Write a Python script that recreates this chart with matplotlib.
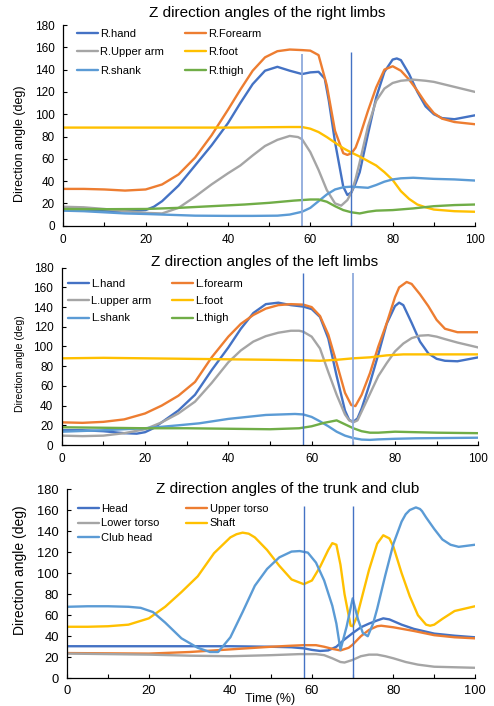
import numpy as np
import matplotlib
matplotlib.use('Agg')
import matplotlib.pyplot as plt

plt.rcParams['font.family'] = ['Liberation Sans', 'DejaVu Sans']
plt.rcParams['lines.solid_joinstyle'] = 'round'
plt.rcParams['lines.solid_capstyle'] = 'round'

# ---- right limbs ----
r_hand_x = [0, 5, 10, 15, 20, 22, 24, 28, 32, 36, 40, 43, 46, 49, 52, 55, 58, 60, 62, 63.5, 64.5, 66, 68, 69, 70, 71, 72, 74, 76, 78, 80, 81, 82, 84, 86, 88, 90, 92, 95, 100]
r_hand_y = [14, 14, 13.5, 13, 14, 17, 22, 36, 54, 72, 92, 110, 127, 139, 142.5, 139, 136, 137.5, 138, 132, 112, 75, 35, 27.5, 30, 38, 48, 82, 115, 138, 149, 150, 148.5, 136, 120, 107, 100, 96.5, 95.5, 99]
r_forearm_x = [0, 5, 10, 15, 20, 24, 28, 32, 36, 40, 43, 46, 49, 52, 55, 58, 60, 62, 64, 66, 68, 69, 70, 71, 72, 74, 76, 78, 80, 82, 84, 86, 88, 90, 92, 95, 100]
r_forearm_y = [33, 33, 32.5, 31.5, 32.5, 37, 46, 61, 81, 104, 122, 139, 151, 156.5, 158, 157.5, 157, 153, 126, 85, 65, 63.5, 65, 70, 80, 103, 124, 140, 143, 139, 131, 121, 110, 101, 96, 93, 91]
r_upper_x = [0, 5, 10, 15, 20, 24, 28, 32, 36, 40, 43, 46, 49, 52, 55, 57, 58, 60, 62, 64, 66, 67.5, 69, 70, 71, 72, 74, 76, 78, 80, 82, 85, 88, 90, 95, 100]
r_upper_y = [17, 16.5, 15, 13, 11.5, 11, 16, 26, 37, 47, 54, 63, 71.5, 77, 80.5, 79.5, 77.5, 66, 50, 32, 20, 18, 23, 30, 42, 57, 89, 112, 123, 128, 130, 131, 130, 129, 124.5, 120]
r_foot_x = [0, 20, 40, 55, 58, 60, 62, 64, 66, 68, 70, 72, 74, 76, 78, 80, 82, 84, 86, 88, 90, 95, 100]
r_foot_y = [88, 88, 88, 88.5, 88.5, 87, 84, 79.5, 74.5, 69.5, 65.5, 62, 58, 54, 48, 41, 31, 24, 19, 16.5, 14.5, 13, 12.5]
r_shank_x = [0, 5, 10, 15, 20, 24, 28, 32, 40, 46, 52, 55, 58, 60, 62, 64, 66, 68, 70, 72, 74, 76, 78, 80, 82, 85, 90, 95, 100]
r_shank_y = [13.5, 13, 12, 11, 10.5, 10, 9.5, 9, 8.8, 8.8, 9, 10, 12.5, 16, 22, 28, 32.5, 34.5, 35, 34.5, 34, 36.5, 39.5, 41.5, 42.5, 43, 42, 41.5, 40.5]
r_thigh_x = [0, 10, 20, 28, 36, 44, 50, 56, 60, 62, 64, 66, 68, 70, 72, 74, 76, 80, 85, 90, 95, 100]
r_thigh_y = [15, 14.8, 15, 16, 17.5, 19, 20.5, 22.5, 23.5, 23.5, 21.5, 17.5, 14, 12, 11, 12.5, 13.5, 14, 15.5, 17.5, 18.5, 19]

# ---- left limbs ----
l_hand_x = [0, 5, 10, 15, 18, 20, 22, 24, 28, 32, 36, 40, 43, 46, 49, 52, 55, 58, 60, 62, 64, 66, 68, 69, 70, 71, 72, 74, 76, 78, 80, 81, 82, 84, 86, 88, 90, 92, 95, 100]
l_hand_y = [15, 15, 14, 12, 11.5, 13, 17, 23, 35, 51, 76, 99, 118, 134, 143, 144.5, 142, 140.5, 138, 130, 108, 70, 35, 25.5, 23.5, 27, 37, 63, 92, 123, 141, 144.5, 142, 124, 105, 93, 87.5, 85.5, 85, 89]
l_forearm_x = [0, 5, 10, 15, 20, 24, 28, 32, 36, 40, 43, 46, 49, 52, 55, 58, 60, 62, 64, 66, 68, 69.5, 70.5, 72, 74, 76, 78, 80, 81, 82.8, 84, 86, 88, 90, 92, 95, 100]
l_forearm_y = [23, 22.5, 23.5, 26, 32, 40, 50, 64, 89, 110, 123, 132, 138.5, 142, 143, 142.5, 140, 131, 112, 83, 53, 40.5, 39.5, 51, 73, 100, 123.5, 150, 160, 165.5, 163.5, 153, 141, 127, 118, 114.5, 114.5]
l_upper_x = [0, 5, 10, 15, 20, 24, 28, 32, 36, 40, 43, 46, 49, 52, 55, 57, 58, 60, 62, 64, 66, 68, 69, 70, 71, 72, 74, 76, 78, 80, 82, 84, 86, 88, 90, 92, 95, 100]
l_upper_y = [9.5, 9, 9.5, 12, 16, 23, 32, 44, 63, 84, 96, 105, 110.5, 114, 116, 116, 115, 110, 98, 74, 51, 31, 25, 23, 25, 34, 52, 70, 83, 95, 103, 108.5, 111, 111.5, 110, 107.5, 104, 99]
l_foot_x = [0, 10, 20, 30, 40, 50, 58, 62, 66, 70, 74, 78, 82, 90, 100]
l_foot_y = [88, 88.5, 88, 87.5, 87, 86.5, 86, 85.5, 86.5, 88, 89, 91, 92, 92, 92]
l_shank_x = [0, 10, 20, 28, 33, 40, 49, 56, 58, 60, 62, 64, 66, 68, 70, 72, 74, 76, 80, 85, 90, 100]
l_shank_y = [13.5, 15, 17, 20, 22, 26.5, 30.5, 31.5, 31, 28.5, 24, 19, 13.5, 9.5, 7, 5.5, 5.2, 5.7, 6.3, 6.8, 7, 7.4]
l_thigh_x = [0, 10, 20, 30, 40, 50, 57, 60, 63, 66, 68, 70, 72, 74, 76, 80, 85, 90, 100]
l_thigh_y = [18, 17.5, 17, 17, 16.5, 16, 17, 19, 22.5, 25, 21, 17, 14, 12.5, 12.5, 13.5, 13, 12.5, 12]

# ---- trunk and club ----
head_x = [0, 20, 40, 50, 55, 58, 60, 62, 64, 66, 68, 70, 72, 74, 76, 77.5, 79, 82, 85, 90, 95, 100]
head_y = [30.5, 30.5, 30.5, 30, 29.5, 28.5, 27, 26, 26.5, 30, 37, 43, 48.5, 52, 55, 57, 56, 51, 47, 42.5, 40.5, 39]
upper_torso_x = [0, 20, 30, 40, 50, 55, 58, 61, 63, 65, 67, 69, 70, 72, 74, 76, 77, 80, 85, 90, 95, 100]
upper_torso_y = [24, 23.5, 25, 27.5, 30, 31, 31.5, 31.5, 30, 28, 26.5, 29, 32, 40, 46, 49.5, 50, 48.5, 45, 41, 39, 38]
lower_torso_x = [0, 10, 20, 30, 40, 50, 57, 61, 63, 65, 67, 68, 70, 72, 74, 76, 78, 80, 83, 86, 90, 95, 100]
lower_torso_y = [23.5, 23, 22.5, 21.5, 21, 22, 23, 23, 22, 19, 15.5, 15, 17.5, 21, 22.5, 22.5, 21, 19, 15.5, 13, 11, 10.5, 10]
shaft_x = [0, 5, 10, 15, 20, 24, 28, 32, 36, 40, 41.5, 43, 44.5, 46, 49, 52, 55, 58, 60, 62, 64, 65, 66, 67, 68, 69.5, 70, 71, 72, 74, 76, 77.5, 79, 80, 82, 84, 86, 88, 89, 90, 92, 95, 100]
shaft_y = [49, 49, 49.5, 51, 57, 68, 82, 97, 119, 134, 137, 138.5, 137.5, 134, 122, 107, 94, 89.5, 93, 106, 122, 128.5, 127, 108, 80, 50, 49.5, 58, 73, 103, 128, 136, 133, 125, 100, 78, 60, 51, 50, 51, 56.5, 64, 68.5]
club_x = [0, 5, 10, 15, 18, 21, 24, 28, 32, 35, 37, 40, 43, 46, 49, 52, 55, 57, 59, 61, 63, 65, 66, 67, 68.5, 70, 71.3, 72.5, 73.7, 75, 76, 78, 80, 82, 83, 84, 85.5, 86.5, 87, 88, 90, 92, 94, 96, 98, 100]
club_y = [68, 68.5, 68.5, 68, 67, 63, 53, 38, 29, 25, 25, 39, 63, 88, 104, 115, 120.5, 121, 119.5, 110, 93, 69, 52, 27, 49, 76, 56, 43, 40, 52, 66, 98, 128, 149, 156, 160, 162.5, 161, 159, 153, 142, 132, 127, 125, 126, 127]

BLUE = '#4472C4'
ORANGE = '#ED7D31'
GRAY = '#A5A5A5'
YELLOW = '#FFC000'
LBLUE = '#5B9BD5'
GREEN = '#70AD47'

W, H = 494, 706
fig = plt.figure(figsize=(W / 100, H / 100), dpi=100)


def px_axes(left, right, top, bottom):
    return fig.add_axes([left / W, 1 - bottom / H, (right - left) / W, (bottom - top) / H])


def style(ax, fs):
    ax.set_xlim(0, 100)
    ax.set_ylim(0, 180)
    ax.set_xticks(np.arange(0, 101, 20))
    ax.set_xticks(np.arange(0, 101, 10), minor=True)
    ax.set_yticks(np.arange(0, 181, 20))
    for s in ['top', 'right']:
        ax.spines[s].set_visible(False)
    for s in ['left', 'bottom']:
        ax.spines[s].set_color('black')
        ax.spines[s].set_linewidth(0.9)
    ax.tick_params(which='both', direction='in', length=3, width=0.8, color='black')
    ax.tick_params(axis='x', which='minor', labelbottom=False)
    ax.tick_params(axis='x', labelsize=fs, pad=6, colors='black')
    ax.tick_params(axis='y', labelsize=fs, pad=6, colors='black')


lw = 1.7

# right limbs panel
ax1 = px_axes(63.3, 475, 25, 225.7)
style(ax1, 8.5)
h_hand, = ax1.plot(r_hand_x, r_hand_y, color=BLUE, lw=lw, label='R.hand')
h_fore, = ax1.plot(r_forearm_x, r_forearm_y, color=ORANGE, lw=lw, label='R.Forearm')
h_up, = ax1.plot(r_upper_x, r_upper_y, color=GRAY, lw=lw, label='R.Upper arm')
h_foot, = ax1.plot(r_foot_x, r_foot_y, color=YELLOW, lw=lw, label='R.foot')
h_shank, = ax1.plot(r_shank_x, r_shank_y, color=LBLUE, lw=lw, label='R.shank')
h_thigh, = ax1.plot(r_thigh_x, r_thigh_y, color=GREEN, lw=lw, label='R.thigh')
ax1.vlines(58, 0, 154, color='#8FAADC', lw=1.3)
ax1.vlines(70, 0, 156, color=BLUE, lw=1.0)
order1 = [h_hand, h_up, h_shank, h_fore, h_foot, h_thigh]
ax1.legend(order1, [h.get_label() for h in order1],
           ncol=2, loc='upper left', bbox_to_anchor=(0.033, 0.98), frameon=False,
           fontsize=8, handlelength=1.9, handletextpad=0.2, columnspacing=1.9,
           labelspacing=0.75, borderpad=0, borderaxespad=0)
fig.text(267 / W, 1 - 13 / H, 'Z direction angles of the right limbs', ha='center', va='center', fontsize=11)
fig.text(20 / W, 1 - 144 / H, 'Direction angle (deg)', ha='center', va='center', rotation=90, fontsize=9)

# left limbs panel
ax2 = px_axes(61.7, 478.3, 267.7, 445)
style(ax2, 8.5)
g_hand, = ax2.plot(l_hand_x, l_hand_y, color=BLUE, lw=lw, label='L.hand')
g_fore, = ax2.plot(l_forearm_x, l_forearm_y, color=ORANGE, lw=lw, label='L.forearm')
g_up, = ax2.plot(l_upper_x, l_upper_y, color=GRAY, lw=lw, label='L.upper arm')
g_foot, = ax2.plot(l_foot_x, l_foot_y, color=YELLOW, lw=lw, label='L.foot')
g_shank, = ax2.plot(l_shank_x, l_shank_y, color=LBLUE, lw=lw, label='L.shank')
g_thigh, = ax2.plot(l_thigh_x, l_thigh_y, color=GREEN, lw=lw, label='L.thigh')
ax2.vlines(58, 0, 174.6, color=BLUE, lw=1.0)
ax2.vlines(70, 0, 174.6, color='#8FAADC', lw=1.3)
order2 = [g_hand, g_up, g_shank, g_fore, g_foot, g_thigh]
ax2.legend(order2, [h.get_label() for h in order2],
           ncol=2, loc='upper left', bbox_to_anchor=(0.015, 0.936), frameon=False,
           fontsize=8, handlelength=1.9, handletextpad=0.2, columnspacing=1.8,
           labelspacing=0.65, borderpad=0, borderaxespad=0)
fig.text(265 / W, 1 - 262 / H, 'Z direction angles of the left limbs', ha='center', va='center', fontsize=11)
fig.text(20 / W, 1 - 364 / H, 'Direction angle (deg)', ha='center', va='center', rotation=90, fontsize=7.5)

# trunk and club panel
ax3 = px_axes(67.3, 475, 489, 678.3)
style(ax3, 9.3)
k_head, = ax3.plot(head_x, head_y, color=BLUE, lw=lw, label='Head')
k_up, = ax3.plot(upper_torso_x, upper_torso_y, color=ORANGE, lw=lw, label='Upper torso')
k_low, = ax3.plot(lower_torso_x, lower_torso_y, color=GRAY, lw=lw, label='Lower torso')
k_shaft, = ax3.plot(shaft_x, shaft_y, color=YELLOW, lw=lw, label='Shaft')
k_club, = ax3.plot(club_x, club_y, color=LBLUE, lw=lw, label='Club head')
ax3.vlines(58, 0, 164, color=BLUE, lw=1.0)
ax3.vlines(70, 0, 164, color=BLUE, lw=1.0)
order3 = [k_head, k_low, k_club, k_up, k_shaft]
ax3.legend(order3, [h.get_label() for h in order3],
           ncol=2, loc='upper left', bbox_to_anchor=(0.026, 0.921), frameon=False,
           fontsize=8, handlelength=1.9, handletextpad=0.2, columnspacing=2.4,
           labelspacing=0.4, borderpad=0, borderaxespad=0)
ax3.tick_params(axis='x', pad=4.5)
fig.text(288 / W, 1 - 489 / H, 'Z direction angles of the trunk and club', ha='center', va='center', fontsize=11)
fig.text(20 / W, 1 - 570 / H, 'Direction angle (deg)', ha='center', va='center', rotation=90, fontsize=10)
fig.text(270 / W, 1 - 699 / H, 'Time (%)', ha='center', va='center', fontsize=9)

plt.savefig('out.png', dpi=100)
